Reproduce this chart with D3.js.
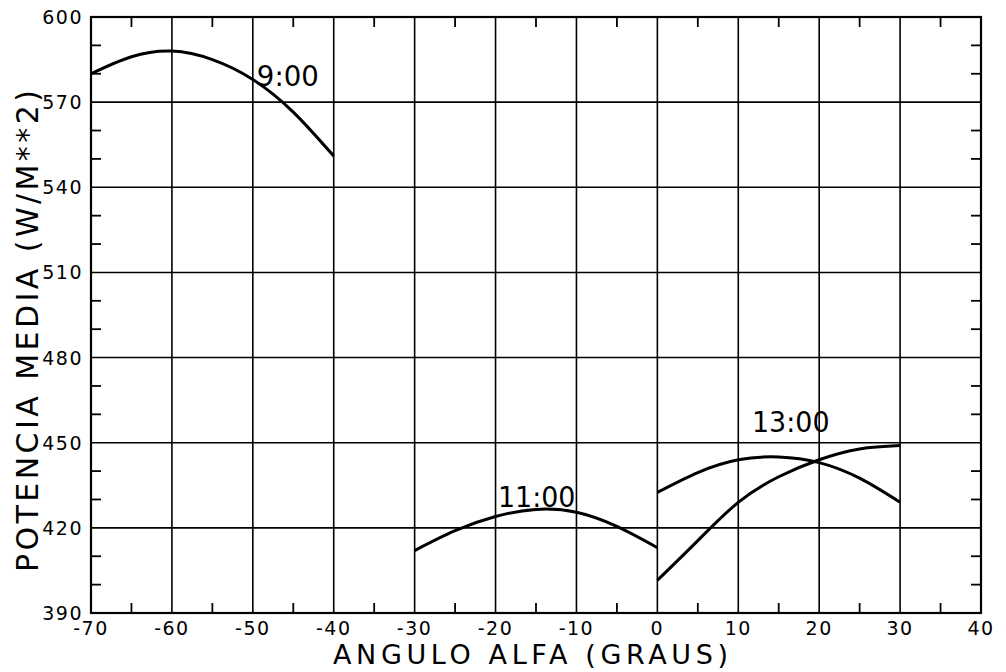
<!DOCTYPE html>
<html>
<head>
<meta charset="utf-8">
<script src="https://cdn.jsdelivr.net/npm/d3@7"></script>
<style>
  body { margin: 0; background: #fff; }
  text { font-family: "DejaVu Sans", sans-serif; fill: #000; }
</style>
</head>
<body>
<div id="chart"></div>
<script>
// potencia media por angulo alfa, para tres horas do dia
const alfa9  = [-70, -65, -60, -55, -50, -45, -40];
const pot9   = [580, 586, 588, 585, 578, 566.5, 551];
const alfa11 = [-30, -25, -20, -15, -10, -5, 0];
const pot11  = [412, 419, 424, 426.5, 425.5, 420.5, 413];
const alfa13a = [0, 5, 10, 15, 20, 25, 30];
const pot13a  = [432.5, 439.5, 444, 445, 443, 437.5, 429];
const alfa13b = [0, 5, 10, 15, 20, 25, 30];
const pot13b  = [401.5, 415.5, 429, 438, 444, 447.8, 449];
const xTicks = d3.range(-70, 41, 10);
const yTicks = d3.range(390, 601, 30);

const width = 1006, height = 672;
const margin = {left: 91, right: 25, top: 17, bottom: 59};

const x = d3.scaleLinear().domain([-70, 40]).range([margin.left, width - margin.right]);
const y = d3.scaleLinear().domain([390, 600]).range([height - margin.bottom, margin.top]);

const svg = d3.select("#chart").append("svg")
    .attr("width", width)
    .attr("height", height);

// grade
svg.append("g")
  .selectAll("line")
  .data(xTicks)
  .join("line")
    .attr("x1", d => x(d)).attr("x2", d => x(d))
    .attr("y1", y(390)).attr("y2", y(600))
    .attr("stroke", "#000").attr("stroke-width", 1.6);

svg.append("g")
  .selectAll("line")
  .data(yTicks)
  .join("line")
    .attr("x1", x(-70)).attr("x2", x(40))
    .attr("y1", d => y(d)).attr("y2", d => y(d))
    .attr("stroke", "#000").attr("stroke-width", 1.6);

// ticks menores (para dentro)
const tk = 10;
const xMinor = d3.range(-65, 40, 10);
const yMinor = d3.range(390, 600, 10).filter(d => (d - 390) % 30 !== 0);
const minor = svg.append("g").attr("stroke", "#000").attr("stroke-width", 1.8);
minor.selectAll(".xb").data(xMinor).join("line").attr("class", "xb")
    .attr("x1", d => x(d)).attr("x2", d => x(d))
    .attr("y1", y(390)).attr("y2", y(390) - tk);
minor.selectAll(".xt").data(xMinor).join("line").attr("class", "xt")
    .attr("x1", d => x(d)).attr("x2", d => x(d))
    .attr("y1", y(600)).attr("y2", y(600) + tk);
minor.selectAll(".yl").data(yMinor).join("line").attr("class", "yl")
    .attr("x1", x(-70)).attr("x2", x(-70) + tk)
    .attr("y1", d => y(d)).attr("y2", d => y(d));
minor.selectAll(".yr").data(yMinor).join("line").attr("class", "yr")
    .attr("x1", x(40)).attr("x2", x(40) - tk)
    .attr("y1", d => y(d)).attr("y2", d => y(d));

// moldura
svg.append("rect")
    .attr("x", x(-70)).attr("y", y(600))
    .attr("width", x(40) - x(-70)).attr("height", y(390) - y(600))
    .attr("fill", "none").attr("stroke", "#000").attr("stroke-width", 2.2);

// rotulos dos eixos
svg.append("g")
  .selectAll("text")
  .data(xTicks)
  .join("text")
    .attr("x", d => x(d))
    .attr("y", y(390) + 22)
    .attr("text-anchor", "middle")
    .attr("font-size", 19)
    .attr("letter-spacing", 1.5)
    .text(d => d);

svg.append("g")
  .selectAll("text")
  .data(yTicks)
  .join("text")
    .attr("x", x(-70) - 8)
    .attr("y", d => y(d) + 7)
    .attr("text-anchor", "end")
    .attr("font-size", 19)
    .attr("letter-spacing", 1.5)
    .text(d => d);

svg.append("text")
    .attr("x", 333)
    .attr("y", height - 8)
    .attr("font-size", 27)
    .attr("textLength", 395)
    .attr("lengthAdjust", "spacing")
    .text("ANGULO ALFA (GRAUS)");

svg.append("text")
    .attr("transform", "translate(38,572) rotate(-90)")
    .attr("font-size", 30)
    .attr("textLength", 482)
    .attr("lengthAdjust", "spacing")
    .text("POTENCIA MEDIA (W/M**2)");

// curvas
const series = [
  {xs: alfa9, ys: pot9},
  {xs: alfa11, ys: pot11},
  {xs: alfa13a, ys: pot13a},
  {xs: alfa13b, ys: pot13b}
];
const line = d3.line()
    .x(d => x(d[0]))
    .y(d => y(d[1]))
    .curve(d3.curveNatural);

svg.append("g")
  .selectAll("path")
  .data(series)
  .join("path")
    .attr("d", s => line(s.xs.map((v, i) => [v, s.ys[i]])))
    .attr("fill", "none")
    .attr("stroke", "#000")
    .attr("stroke-width", 3);

// horas
const labels = [
  {t: "9:00", a: -49.5, p: 575.7},
  {t: "11:00", a: -19.7, p: 427.4},
  {t: "13:00", a: 11.7, p: 453.8}
];
svg.append("g")
  .selectAll("text")
  .data(labels)
  .join("text")
    .attr("x", d => x(d.a))
    .attr("y", d => y(d.p))
    .attr("font-size", 28)
    .attr("textLength", d => d.t.length * 15.5)
    .attr("lengthAdjust", "spacingAndGlyphs")
    .text(d => d.t);
</script>
</body>
</html>
